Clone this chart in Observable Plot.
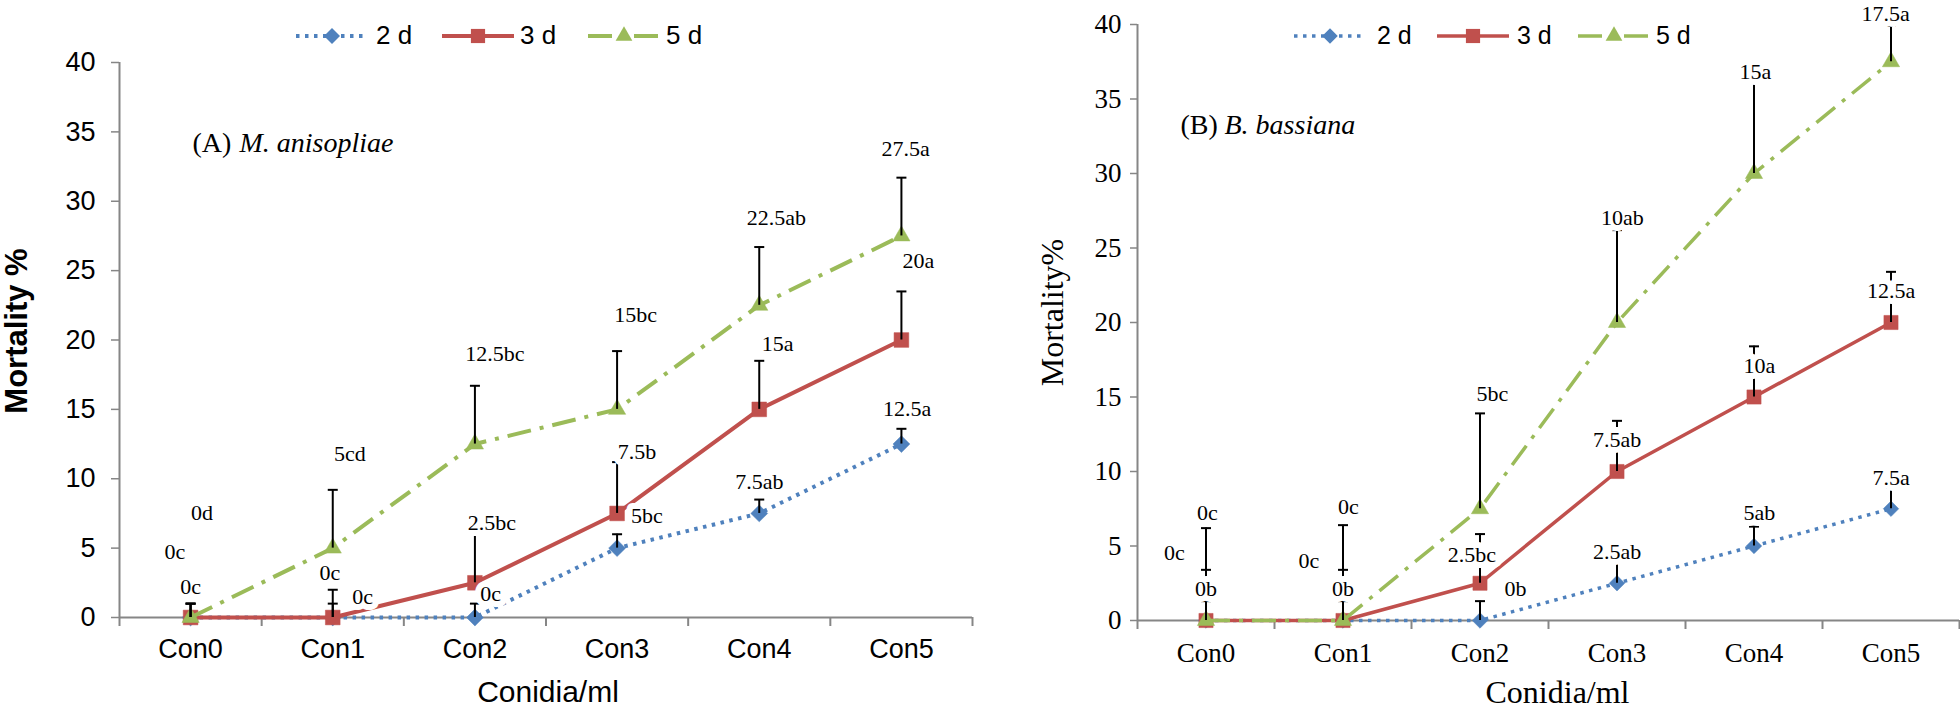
<!DOCTYPE html>
<html>
<head>
<meta charset="utf-8">
<script src="https://cdn.jsdelivr.net/npm/d3@7"></script>
<script src="https://cdn.jsdelivr.net/npm/@observablehq/plot@0.6"></script>
<style>
  html, body { margin: 0; padding: 0; background: #fff; }
  body { width: 1960px; height: 712px; position: relative; overflow: hidden; }
  #panelA { position: absolute; left: 0; top: 0; }
  #panelB { position: absolute; left: 1000px; top: 0; }
  .legend { position: absolute; display: flex; align-items: center; font-family: "Liberation Sans", Arial, sans-serif; color: #000; }
  .legend .item { display: flex; align-items: center; }
  .legend svg { display: block; overflow: visible; }
</style>
</head>
<body>
<div id="panelA"></div>
<div id="panelB"></div>
<div id="legendA" class="legend"></div>
<div id="legendB" class="legend"></div>
<script>
// ---------- shared categories / ticks ----------
const categories = ["Con0", "Con1", "Con2", "Con3", "Con4", "Con5"];
const seriesNames = ["2 d", "3 d", "5 d"];
const yTicks = [0, 5, 10, 15, 20, 25, 30, 35, 40];

// ---------- (A) M. anisopliae : mortality % ----------
const a2d = [0, 0, 0, 5, 7.5, 12.5];
const a3d = [0, 0, 2.5, 7.5, 15, 20];
const a5d = [0, 5, 12.5, 15, 22.5, 27.5];
// upper ends of the error bars
const a2dErr = [1.0, 1.0, 1.0, 6.0, 8.5, 13.6];
const a3dErr = [1.0, 2.0, 6.2, 11.2, 18.5, 23.5];
const a5dErr = [1.0, 9.2, 16.7, 19.2, 26.7, 31.7];
// significance labels
const a2dLab = ["0c", "0c", "0c", "5bc", "7.5ab", "12.5a"];
const a3dLab = ["0c", "0c", "2.5bc", "7.5b", "15a", "20a"];
const a5dLab = ["0d", "5cd", "12.5bc", "15bc", "22.5ab", "27.5a"];

// ---------- (B) B. bassiana : mortality % ----------
const b2d = [0, 0, 0, 2.5, 5, 7.5];
const b3d = [0, 0, 2.5, 10, 15, 20];
const b5d = [0, 0, 7.5, 20, 30, 37.5];
const b2dErr = [1.3, 1.3, 1.3, 3.9, 6.3, 8.9];
const b3dErr = [3.4, 3.4, 5.8, 13.4, 18.4, 23.4];
const b5dErr = [6.2, 6.4, 13.9, 26.2, 36.1, 39.9];
const b2dLab = ["0b", "0b", "0b", "2.5ab", "5ab", "7.5a"];
const b3dLab = ["0c", "0c", "2.5bc", "7.5ab", "10a", "12.5a"];
const b5dLab = ["0c", "0c", "5bc", "10ab", "15a", "17.5a"];

// ---------- label placement (layout only) ----------
const a2dLabY = [2.2, 1.5, 1.7, 7.3, 9.8, 15.0];
const a3dLabY = [4.7, 3.2, 6.8, 11.9, 19.7, 25.7];
const a5dLabY = [7.5, 11.8, 19.0, 21.8, 28.8, 33.8];
const a2dLabDx = [0, 0.21, 0.11, 0.21, 0, 0.04];
const a3dLabDx = [-0.11, -0.02, 0.12, 0.14, 0.13, 0.12];
const a5dLabDx = [0.08, 0.12, 0.14, 0.13, 0.12, 0.03];
const b2dLabY = [2.1, 2.1, 2.1, 4.6, 7.2, 9.6];
const b3dLabY = [4.5, 4.0, 4.4, 12.1, 17.1, 22.1];
const b5dLabY = [7.2, 7.6, 15.2, 27.0, 36.8, 40.7];
const b2dLabDx = [0, 0, 0.26, 0, 0.04, 0];
const b3dLabDx = [-0.23, -0.25, -0.06, 0, 0.04, 0];
const b5dLabDx = [0.01, 0.04, 0.09, 0.04, 0.01, -0.04];

// ---------- styles ----------
const GREY = "#868686";
const COLORS = ["#4F81BD", "#C0504D", "#9BBB59"];
const DASH = ["3.5 5.5", null, "24 9 4 9"];
const SYMBOLS = ["diamond2", "square", "triangle"];
const SANS = "'Liberation Sans', Arial, sans-serif";
const SERIF = "'Liberation Serif', 'Times New Roman', serif";
const capSymbol = { draw(ctx, size) { const w = Math.sqrt(size / Math.PI); ctx.moveTo(-w, 0); ctx.lineTo(w, 0); } };

function panel(cfg) {
  const rows = [], labels = [];
  seriesNames.forEach((s, k) => categories.forEach((c, i) => {
    rows.push({k, i, v: cfg.vals[k][i], e: cfg.errs[k][i]});
    labels.push({x: i + cfg.labDx[k][i], y: cfg.labY[k][i], t: cfg.labs[k][i]});
  }));
  const bounds = d3.range(categories.length + 1).map(d => d - 0.5);
  const seriesMarks = seriesNames.flatMap((s, k) => {
    const data = rows.filter(d => d.k === k);
    return [
      Plot.line(data, {x: "i", y: "v", stroke: COLORS[k], strokeWidth: cfg.lineWidth,
        strokeDasharray: DASH[k] ?? undefined, strokeLinecap: "butt"}),
      Plot.dot(data, {x: "i", y: "v", symbol: SYMBOLS[k], r: cfg.markerR[k], fill: COLORS[k], stroke: COLORS[k], strokeWidth: 0.5})
    ];
  });
  return Plot.plot({
    width: cfg.width, height: 712,
    marginLeft: cfg.ml, marginRight: cfg.mr, marginTop: cfg.mt, marginBottom: cfg.mb,
    x: {domain: [-0.5, categories.length - 0.5]},
    y: {domain: [0, 40]},
    style: {background: "white", overflow: "visible"},
    marks: [
      Plot.axisY(yTicks, {anchor: "left", tickSize: cfg.ytickSize, tickPadding: cfg.ytickPad, stroke: GREY, strokeWidth: 1.5,
        fill: "black", fontSize: cfg.tickFont, fontFamily: cfg.tickFamily, label: null}),
      Plot.axisX(bounds, {anchor: "bottom", tickSize: 9, stroke: GREY, strokeWidth: 2, tickFormat: () => "", label: null}),
      Plot.axisX(d3.range(categories.length), {anchor: "bottom", tickSize: 0, tickPadding: cfg.xtickPad, lineAnchor: "middle",
        tickFormat: i => categories[i], fill: "black", fontSize: cfg.tickFont, fontFamily: cfg.tickFamily, label: null}),
      Plot.ruleX([-0.5], {stroke: GREY, strokeWidth: 2}),
      Plot.ruleY([0], {stroke: GREY, strokeWidth: 2}),
      ...seriesMarks,
      Plot.ruleX(rows, {x: "i", y1: "v", y2: "e", stroke: "black", strokeWidth: 2}),
      Plot.dot(rows, {x: "i", y: "e", symbol: capSymbol, r: 5, fill: "none", stroke: "black", strokeWidth: 2}),
      Plot.text(labels, {x: "x", y: "y", text: "t", fontFamily: SERIF, fontSize: cfg.labFont, fill: "black",
        stroke: "white", strokeWidth: 12, strokeLinejoin: "round", paintOrder: "stroke", textAnchor: "middle", lineAnchor: "middle"}),
      Plot.text([cfg.tag], {frameAnchor: "top-left", dx: cfg.tagDx, dy: cfg.tagDy, textAnchor: "start", lineAnchor: "middle",
        fontFamily: SERIF, fontSize: 28, fill: "black"}),
      Plot.text([cfg.species], {frameAnchor: "top-left", dx: cfg.spDx, dy: cfg.tagDy, textAnchor: "start", lineAnchor: "middle",
        fontFamily: SERIF, fontSize: 28, fontStyle: "italic", fill: "black"}),
      Plot.text([cfg.ytitle], {frameAnchor: "left", rotate: -90, dx: cfg.ytDx, dy: cfg.ytDy, lineAnchor: "middle", textAnchor: "middle",
        fontFamily: cfg.titleFamily, fontWeight: cfg.ytWeight, fontSize: cfg.ytFont, fill: "black"}),
      Plot.text([cfg.xtitle], {frameAnchor: "bottom", dx: cfg.xtDx, dy: cfg.xtDy, lineAnchor: "middle", textAnchor: "middle",
        fontFamily: cfg.titleFamily, fontSize: cfg.xtFont, fill: "black"})
    ]
  });
}

document.getElementById("panelA").append(panel({
  vals: [a2d, a3d, a5d], errs: [a2dErr, a3dErr, a5dErr], labs: [a2dLab, a3dLab, a5dLab],
  labY: [a2dLabY, a3dLabY, a5dLabY], labDx: [a2dLabDx, a3dLabDx, a5dLabDx],
  width: 1000, ml: 119, mr: 28, mt: 62, mb: 95,
  ytickSize: 8, ytickPad: 16, xtickPad: 32, tickFont: 27, tickFamily: SANS,
  labFont: 22, lineWidth: 4, markerR: [7.6, 8.3, 6.4],
  tag: "(A)", species: "M. anisopliae", tagDx: 73, spDx: 120, tagDy: 81,
  ytitle: "Mortality %", ytDx: -102, ytDy: -9, ytWeight: "bold", ytFont: 31,
  xtitle: "Conidia/ml", xtDx: 2, xtDy: 75, xtFont: 30, titleFamily: SANS
}));

document.getElementById("panelB").append(panel({
  vals: [b2d, b3d, b5d], errs: [b2dErr, b3dErr, b5dErr], labs: [b2dLab, b3dLab, b5dLab],
  labY: [b2dLabY, b3dLabY, b5dLabY], labDx: [b2dLabDx, b3dLabDx, b5dLabDx],
  width: 960, ml: 137, mr: 1, mt: 24, mb: 92,
  ytickSize: 7, ytickPad: 9, xtickPad: 33, tickFont: 27, tickFamily: SERIF,
  labFont: 22, lineWidth: 3.5, markerR: [7.0, 8.0, 6.4],
  tag: "(B)", species: "B. bassiana", tagDx: 43, spDx: 87, tagDy: 101,
  ytitle: "Mortality%", ytDx: -85, ytDy: -10, ytWeight: "normal", ytFont: 32,
  xtitle: "Conidia/ml", xtDx: 9, xtDy: 72, xtFont: 32, titleFamily: SERIF
}));

// ---------- legends ----------
function legend(id, opts) {
  const el = d3.select("#" + id).style("left", opts.left + "px").style("top", opts.top + "px");
  seriesNames.forEach((name, k) => {
    const item = el.append("div").attr("class", "item").style("width", opts.itemW[k] + "px");
    const svg = item.append("svg").attr("width", opts.swatchW).attr("height", 24);
    svg.append("line").attr("x1", 0).attr("x2", opts.swatchW).attr("y1", 12).attr("y2", 12)
      .attr("stroke", COLORS[k]).attr("stroke-width", opts.lineWidth)
      .attr("stroke-dasharray", DASH[k]);
    const sym = [d3.symbolDiamond2, d3.symbolSquare, d3.symbolTriangle][k];
    const r = opts.markerR[k];
    svg.append("path").attr("d", d3.symbol(sym, Math.PI * r * r)())
      .attr("transform", `translate(${opts.swatchW / 2},12)`).attr("fill", COLORS[k]);
    item.append("span").text(name).style("margin-left", opts.gap[k] + "px").style("font-size", opts.font + "px");
  });
}
legend("legendA", {left: 296, top: 20, swatchW: 72, itemW: [146, 146, 146], gap: [8, 6, 6], font: 26,
  lineWidth: 4, markerR: [7.2, 8.0, 6.2]});
legend("legendB", {left: 1294, top: 21, swatchW: 72, itemW: [143, 141, 141], gap: [11, 8, 6], font: 25,
  lineWidth: 3.5, markerR: [7.0, 8.0, 6.2]});
</script>
</body>
</html>
